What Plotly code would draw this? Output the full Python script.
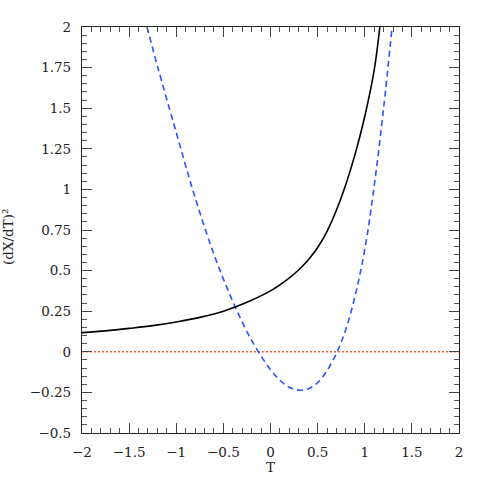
import plotly.graph_objects as go

# black solid curve
t_solid = [-2.0, -1.75, -1.5, -1.25, -1.0, -0.75, -0.5, -0.25, 0.0, 0.1, 0.2,
           0.3, 0.4, 0.5, 0.6, 0.7, 0.8, 0.9, 1.0, 1.1, 1.16]
v_solid = [0.118, 0.129, 0.144, 0.161, 0.184, 0.212, 0.25, 0.305, 0.375, 0.412, 0.455,
           0.505, 0.565, 0.642, 0.742, 0.873, 1.032, 1.222, 1.449, 1.734, 2.0]

# blue dashed curve
t_dash = [-1.31, -1.2, -1.0, -0.8, -0.6, -0.4, -0.2, 0.0, 0.1, 0.2, 0.3,
          0.4, 0.5, 0.6, 0.7, 0.8, 0.9, 1.0, 1.1, 1.2, 1.29]
v_dash = [2.0, 1.76, 1.35, 0.95, 0.60, 0.31, 0.07, -0.11, -0.175, -0.218, -0.236,
          -0.228, -0.19, -0.115, -0.01, 0.14, 0.35, 0.63, 1.02, 1.5, 2.0]

# red dotted zero line
t_zero = [-2.0, 2.0]
v_zero = [0.0, 0.0]

x_ticks = [-2, -1.5, -1, -0.5, 0, 0.5, 1, 1.5, 2]
x_labels = ["\u22122", "\u22121.5", "\u22121", "\u22120.5", "0", "0.5", "1", "1.5", "2"]
y_ticks = [-0.5, -0.25, 0, 0.25, 0.5, 0.75, 1, 1.25, 1.5, 1.75, 2]
y_labels = ["\u22120.5", "\u22120.25", "0", "0.25", "0.5", "0.75", "1", "1.25", "1.5", "1.75", "2"]

font = dict(family="DejaVu Serif, serif", size=13.5, color="#222")

fig = go.Figure()
fig.add_trace(go.Scatter(x=t_zero, y=v_zero, mode="lines",
                         line=dict(color="#ff5a3c", width=1.5, dash="2px,2px")))
fig.add_trace(go.Scatter(x=t_dash, y=v_dash, mode="lines", line_shape="spline",
                         line=dict(color="#2a55ff", width=1.6, dash="6px,4px")))
fig.add_trace(go.Scatter(x=t_solid, y=v_solid, mode="lines", line_shape="spline",
                         line=dict(color="black", width=1.6)))

axis = dict(showgrid=False, zeroline=False, showline=True, linecolor="#222", linewidth=1.2,
            mirror="ticks", ticks="inside", ticklen=10, tickcolor="#444", tickwidth=1,
            tickfont=font, ticklabelstandoff=7)

fig.update_xaxes(**axis, range=[-2, 2], tickvals=x_ticks, ticktext=x_labels,
                 minor=dict(dtick=0.1, tick0=0, ticks="inside", ticklen=5, tickcolor="#555"))
fig.update_yaxes(**axis, range=[-0.5, 2], tickvals=y_ticks, ticktext=y_labels,
                 minor=dict(dtick=0.05, tick0=0, ticks="inside", ticklen=5, tickcolor="#555"))

fig.add_annotation(text="T", xref="paper", yref="paper", x=0.5, y=-0.084,
                   xanchor="center", yanchor="middle", showarrow=False, font=font)
fig.add_annotation(text="(dX/dT)\u00b2", xref="paper", yref="paper", x=-0.196, y=0.483,
                   xanchor="center", yanchor="middle", textangle=-90, showarrow=False, font=font)

fig.update_layout(width=485, height=485, showlegend=False,
                  margin=dict(l=82, r=26, t=27, b=52),
                  paper_bgcolor="white", plot_bgcolor="white")

# page body has a default 8px margin; drop it so the figure sits at the corner
fig.write_html("out.html", config={"displayModeBar": False},
               post_script="document.body.style.margin='0';")
